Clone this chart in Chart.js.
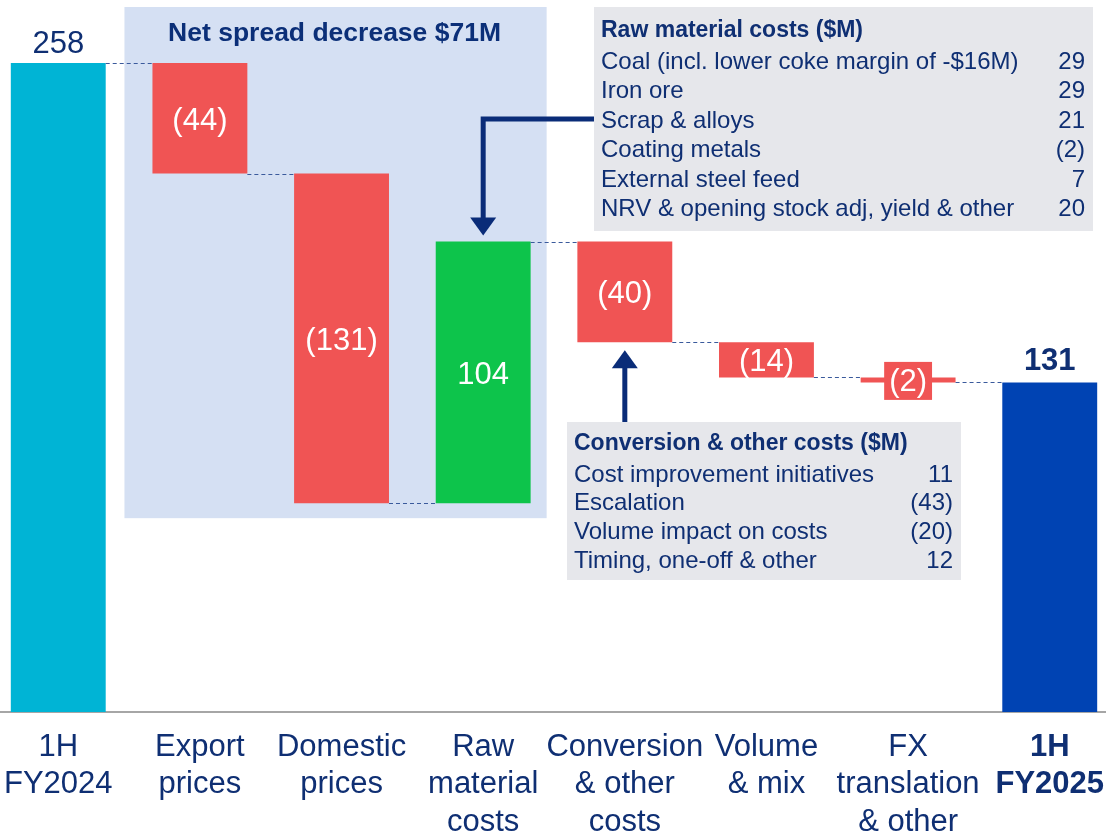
<!DOCTYPE html>
<html>
<head>
<meta charset="utf-8">
<script src="https://cdn.jsdelivr.net/npm/chart.js@4.4.1/dist/chart.umd.min.js"></script>
<style>
  html, body { margin: 0; padding: 0; background: #fff; overflow: hidden; width: 1106px; height: 836px; }
  #wrap { position: absolute; left: -13px; top: 0; width: 1134px; height: 836px; }
</style>
</head>
<body>
<div id="wrap"><canvas id="bridgeChart" width="1134" height="836"></canvas></div>
<script>
// EBIT bridge, $M
const categories = [
  ['1H', 'FY2024'], ['Export', 'prices'], ['Domestic', 'prices'], ['Raw', 'material', 'costs'],
  ['Conversion', '& other', 'costs'], ['Volume', '& mix'], ['FX', 'translation', '& other'], ['1H', 'FY2025']
];
const openingValue = 258;
const changes = [-44, -131, 104, -40, -14, -2];
const closingValue = 131;

const rawItems = ['Coal (incl. lower coke margin of -$16M)', 'Iron ore', 'Scrap & alloys', 'Coating metals', 'External steel feed', 'NRV & opening stock adj, yield & other'];
const rawValues = ['29', '29', '21', '(2)', '7', '20'];
const convItems = ['Cost improvement initiatives', 'Escalation', 'Volume impact on costs', 'Timing, one-off & other'];
const convValues = ['11', '(43)', '(20)', '12'];

const SHIFT = 13; // canvas sits 13px left of the page
const FONT = '"Liberation Sans", Arial, sans-serif';
const NAVY = '#0f2f73';
const ARROW = '#0a2c78';

// build the floating bars
let running = openingValue;
const ranges = [[0, openingValue]];
const levels = [openingValue];
changes.forEach(c => {
  ranges.push([running, running + c]);
  running += c;
  levels.push(running);
});
ranges.push([0, closingValue]);
const shown = [openingValue].concat(changes, [closingValue]);

const colors = shown.map((v, i) => {
  if (i === 0) return '#00b4d5';
  if (i === shown.length - 1) return '#0043b3';
  return v < 0 ? '#f05454' : '#0dc44b';
});

function fmt(v) {
  return v < 0 ? '(' + (-v) + ')' : String(v);
}

function drawArrowHead(ctx, x, tipY, dir) {
  // dir = 1 pointing down, -1 pointing up
  ctx.beginPath();
  ctx.moveTo(x, tipY);
  ctx.lineTo(x - 13, tipY - dir * 18);
  ctx.lineTo(x + 13, tipY - dir * 18);
  ctx.closePath();
  ctx.fill();
}

function drawTable(ctx, box, title, items, values) {
  ctx.fillStyle = '#e6e7eb';
  ctx.fillRect(box.x, box.y, box.w, box.h);
  ctx.fillStyle = NAVY;
  ctx.textBaseline = 'middle';
  ctx.textAlign = 'left';
  ctx.font = 'bold 23px ' + FONT;
  ctx.fillText(title, box.x + 7, box.titleY);
  ctx.font = '24px ' + FONT;
  items.forEach((t, i) => {
    const y = box.rowY + i * box.step;
    ctx.textAlign = 'left';
    ctx.fillText(t, box.x + 7, y);
    ctx.textAlign = 'right';
    ctx.fillText(values[i], box.x + box.w - 8, y);
  });
}

const bridgePlugin = {
  id: 'bridge',
  beforeDatasetsDraw(chart) {
    const ctx = chart.ctx;
    const bars = chart.getDatasetMeta(0).data;
    const y = chart.scales.y;
    const left = bars[1].x - bars[1].width / 2 - 28;
    const right = bars[3].x + bars[3].width / 2 + 16;
    const top = 7;
    const bottom = y.getPixelForValue(levels[2]) + 15;
    ctx.save();
    ctx.fillStyle = '#d5e0f3';
    ctx.fillRect(left, top, right - left, bottom - top);
    ctx.fillStyle = '#0b2f78';
    ctx.font = 'bold 26.5px ' + FONT;
    ctx.textAlign = 'center';
    ctx.textBaseline = 'middle';
    ctx.fillText('Net spread decrease $71M', (left + right) / 2 - 1, 34);
    ctx.restore();
  },
  afterDatasetsDraw(chart) {
    const ctx = chart.ctx;
    const bars = chart.getDatasetMeta(0).data;
    const y = chart.scales.y;
    ctx.save();

    // dashed connectors
    ctx.strokeStyle = '#3a5a9c';
    ctx.lineWidth = 1.2;
    ctx.setLineDash([4, 3]);
    for (let i = 0; i < bars.length - 1; i++) {
      const py = Math.round(y.getPixelForValue(levels[i])) + 0.5;
      ctx.beginPath();
      ctx.moveTo(bars[i].x + bars[i].width / 2, py);
      ctx.lineTo(bars[i + 1].x - bars[i + 1].width / 2, py);
      ctx.stroke();
    }
    ctx.setLineDash([]);

    // value labels
    ctx.textAlign = 'center';
    bars.forEach((b, i) => {
      const top = Math.min(b.y, b.base);
      const bottom = Math.max(b.y, b.base);
      const label = fmt(shown[i]);
      if (i === 0 || i === bars.length - 1) {
        ctx.font = (i === 0 ? '' : 'bold ') + '31px ' + FONT;
        ctx.fillStyle = NAVY;
        ctx.textBaseline = 'alphabetic';
        ctx.fillText(label, b.x, top - (i === 0 ? 10 : 12));
        return;
      }
      ctx.font = '31px ' + FONT;
      const cy = (top + bottom) / 2 + 1;
      if (bottom - top < 30) {
        const w = ctx.measureText(label).width + 10;
        ctx.fillStyle = colors[i];
        ctx.fillRect(b.x - w / 2, cy - 19, w, 38);
      }
      ctx.fillStyle = '#ffffff';
      ctx.textBaseline = 'middle';
      ctx.fillText(label, b.x, cy + 2);
    });

    // raw material callout + arrow
    const rawBox = { x: 594 + SHIFT, y: 7, w: 499, h: 224, titleY: 31, rowY: 62, step: 29.5 };
    drawTable(ctx, rawBox, 'Raw material costs ($M)', rawItems, rawValues);
    const rawBar = bars[3];
    const rawTip = Math.min(rawBar.y, rawBar.base) - 6;
    ctx.strokeStyle = ARROW;
    ctx.fillStyle = ARROW;
    ctx.lineWidth = 5;
    ctx.beginPath();
    ctx.moveTo(rawBox.x, 119);
    ctx.lineTo(rawBar.x, 119);
    ctx.lineTo(rawBar.x, rawTip - 16);
    ctx.stroke();
    drawArrowHead(ctx, rawBar.x, rawTip, 1);

    // conversion callout + arrow
    const convBox = { x: 567 + SHIFT, y: 422, w: 394, h: 158, titleY: 444, rowY: 475, step: 28.7 };
    drawTable(ctx, convBox, 'Conversion & other costs ($M)', convItems, convValues);
    const convBar = bars[4];
    const convTip = Math.max(convBar.y, convBar.base) + 8;
    ctx.strokeStyle = ARROW;
    ctx.fillStyle = ARROW;
    ctx.lineWidth = 5;
    ctx.beginPath();
    ctx.moveTo(convBar.x, convBox.y);
    ctx.lineTo(convBar.x, convTip + 16);
    ctx.stroke();
    drawArrowHead(ctx, convBar.x, convTip, -1);

    ctx.restore();
  }
};

new Chart(document.getElementById('bridgeChart').getContext('2d'), {
  type: 'bar',
  data: {
    labels: categories,
    datasets: [{
      data: ranges,
      backgroundColor: colors,
      borderWidth: 0,
      barPercentage: 0.67,
      categoryPercentage: 1.0
    }]
  },
  options: {
    responsive: false,
    animation: false,
    devicePixelRatio: 1,
    layout: { padding: 0 },
    plugins: { legend: { display: false }, tooltip: { enabled: false } },
    scales: {
      x: {
        grid: { display: false, drawTicks: false },
        border: { display: true, color: '#a6a6a6', width: 2 },
        ticks: {
          color: NAVY,
          padding: 17,
          maxRotation: 0,
          autoSkip: false,
          font: (c) => ({ family: FONT, size: 31, lineHeight: 1.2, weight: c.index === 7 ? 'bold' : 'normal' })
        },
        afterFit: (axis) => { axis.height = 124; }
      },
      y: { display: false, min: 0, max: 283 }
    }
  },
  plugins: [bridgePlugin]
});
</script>
</body>
</html>
